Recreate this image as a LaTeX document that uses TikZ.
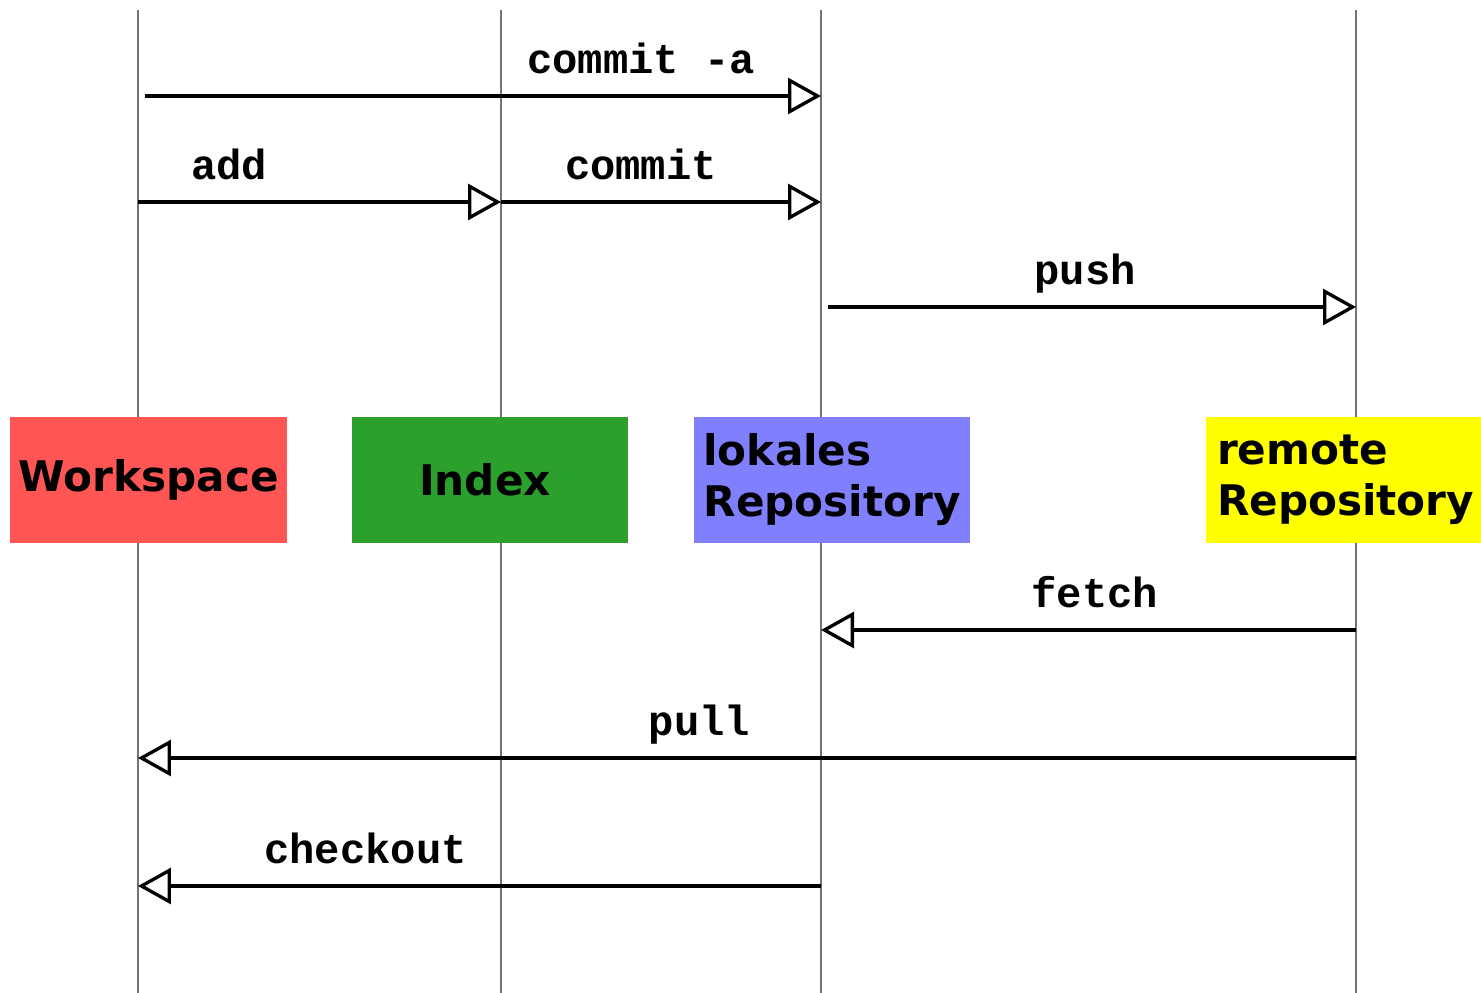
\documentclass[tikz,border=0pt]{standalone}
\usepackage{fontspec}
\usepackage{tikz}
\usetikzlibrary{arrows.meta}
\newfontfamily\boxfont{DejaVu Sans}
\newfontfamily\cmdfont{Liberation Mono}
\definecolor{wsred}{HTML}{FF5555}
\definecolor{ixgreen}{HTML}{2CA02C}
\definecolor{lrblue}{HTML}{8080FF}
\definecolor{rryellow}{HTML}{FFFF00}

\tikzset{
  stage/.style={rectangle,minimum width=5.54cm,minimum height=2.52cm,inner xsep=0.1cm,inner ysep=0.2cm,
    font=\boxfont\bfseries\fontsize{24}{29}\selectfont},
  lifeline/.style={draw=black!55,line width=1.1pt},
  msg/.style={line width=2.1pt,-{Triangle[fill=white,length=0.66cm,width=0.72cm,line width=1.9pt]}},
  cmd/.style={anchor=base,yshift=0.46cm,font=\cmdfont\bfseries\fontsize{24}{28}\selectfont}
}

\begin{document}
\begin{tikzpicture}[x=0.02cm,y=-0.02cm]
\useasboundingbox (0,0) rectangle (1481,993);

% lifelines
\foreach \n/\x in {ws/138,ix/501,lr/821,rr/1356}{
  \coordinate (\n) at (\x,10);
  \coordinate (\n-end) at (\x,993);
  \draw[lifeline] (\n) -- (\n-end);
}

% the four stages
\node[stage,fill=wsred] (workspace) at (148.5,480) {Workspace};
\node[stage,fill=ixgreen,text width=5.34cm,align=center] (index) at (490,480) {\hspace*{-0.2cm}Index};
\node[stage,fill=lrblue,text width=5.14cm,align=left] (local) at (832,480) {lokales\\Repository};
\node[stage,fill=rryellow,text width=5.08cm,align=left] (remote) at (1344,480) {remote\\Repository};

% commands
\draw[msg] ([xshift=0.14cm]ws |- 0,96) -- node[cmd,pos=0.734]{commit -a} (lr |- 0,96);
\draw[msg] (ws |- 0,202) -- node[cmd,pos=0.251]{add} (ix |- 0,202);
\draw[msg] (ix |- 0,202) -- node[cmd,pos=0.4375]{commit} (lr |- 0,202);
\draw[msg] ([xshift=0.14cm]lr |- 0,307) -- node[cmd,pos=0.487]{push} (rr |- 0,307);
\draw[msg] (rr |- 0,630) -- node[cmd,pos=0.488]{fetch} (lr |- 0,630);
\draw[msg] (rr |- 0,758) -- node[cmd,pos=0.539]{pull} (ws |- 0,758);
\draw[msg] (lr |- 0,886) -- node[cmd,pos=0.667]{checkout} (ws |- 0,886);

\end{tikzpicture}
\end{document}
